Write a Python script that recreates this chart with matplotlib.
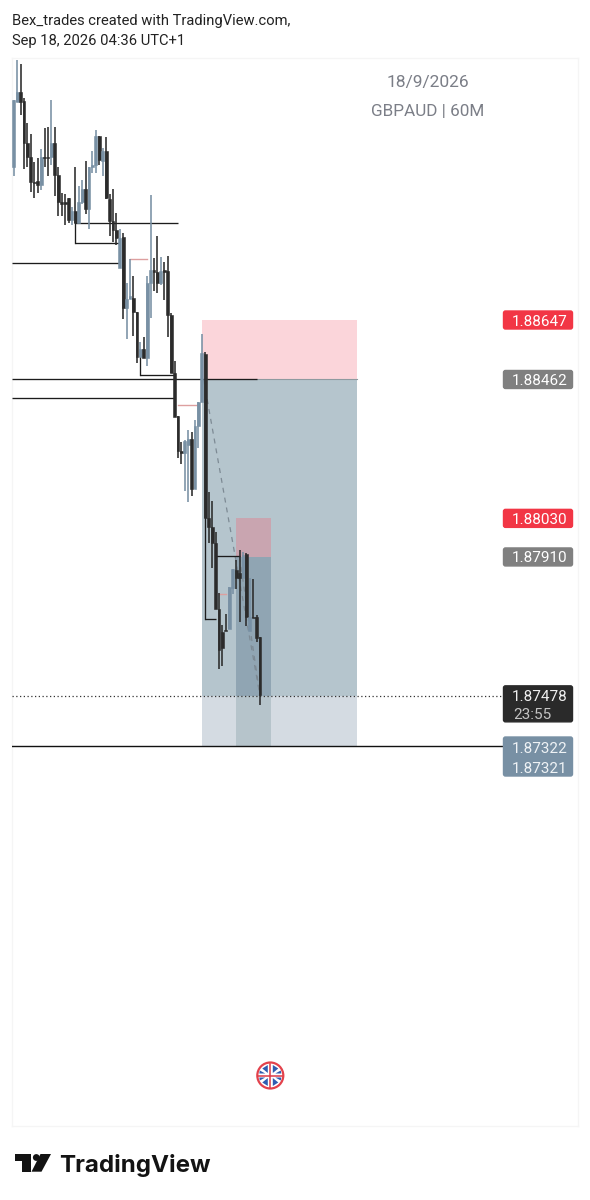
import matplotlib
matplotlib.use('Agg')
import numpy as np
import matplotlib.pyplot as plt
from matplotlib.patches import Rectangle, FancyBboxPatch, Circle, Polygon

plt.rcParams['font.family'] = ['Roboto', 'DejaVu Sans']

opens = [1.89123, 1.89325, 1.89356, 1.89328, 1.89197, 1.89154, 1.89076, 1.89079, 1.89067, 1.89154,
         1.89154, 1.89154, 1.89197, 1.89098, 1.89014, 1.89014, 1.89026, 1.88958, 1.88986, 1.88948,
         1.89014, 1.89054, 1.88992, 1.89123, 1.89129, 1.89219, 1.89141, 1.89173, 1.89023, 1.88955,
         1.88927, 1.88809, 1.88905, 1.88684, 1.88712, 1.88715, 1.88672, 1.88532, 1.88557, 1.88529,
         1.88762, 1.88802, 1.88796, 1.88762, 1.88802, 1.88799, 1.88663, 1.88482, 1.88348, 1.88240,
         1.88234, 1.88258, 1.88276, 1.88121, 1.88317, 1.88392, 1.88542, 1.88031, 1.88003, 1.87953,
         1.87748, 1.87677, 1.87683, 1.87686, 1.87813, 1.87869, 1.87860, 1.87844, 1.87919, 1.87680,
         1.87723, 1.87723, 1.87661]
highs = [1.89331, 1.89455, 1.89443, 1.89337, 1.89259, 1.89225, 1.89138, 1.89151, 1.89179, 1.89244,
         1.89247, 1.89331, 1.89247, 1.89123, 1.89042, 1.89039, 1.89026, 1.88998, 1.89123, 1.89064,
         1.89082, 1.89141, 1.89123, 1.89173, 1.89238, 1.89219, 1.89182, 1.89216, 1.89039, 1.89054,
         1.88979, 1.88930, 1.88917, 1.88762, 1.88837, 1.88784, 1.88672, 1.88579, 1.88594, 1.88784,
         1.89036, 1.88840, 1.88908, 1.88843, 1.88827, 1.88846, 1.88669, 1.88519, 1.88348, 1.88267,
         1.88274, 1.88305, 1.88298, 1.88336, 1.88392, 1.88603, 1.88548, 1.88112, 1.88084, 1.87987,
         1.87797, 1.87698, 1.87732, 1.87816, 1.87872, 1.87900, 1.87931, 1.87925, 1.87922, 1.87844,
         1.87841, 1.87729, 1.87661]
lows = [1.89095, 1.89325, 1.89284, 1.89116, 1.89123, 1.89045, 1.89026, 1.89042, 1.89051, 1.89123,
        1.89095, 1.89129, 1.89033, 1.88970, 1.88970, 1.88942, 1.88948, 1.88942, 1.88948, 1.88948,
        1.89008, 1.88976, 1.88930, 1.89104, 1.89104, 1.89129, 1.89095, 1.89023, 1.88908, 1.88889,
        1.88880, 1.88809, 1.88650, 1.88588, 1.88712, 1.88597, 1.88513, 1.88532, 1.88529, 1.88504,
        1.88653, 1.88737, 1.88731, 1.88756, 1.88709, 1.88594, 1.88482, 1.88345, 1.88218, 1.88199,
        1.88115, 1.88081, 1.88100, 1.88121, 1.88249, 1.88392, 1.88031, 1.87953, 1.87875, 1.87748,
        1.87561, 1.87570, 1.87680, 1.87686, 1.87794, 1.87810, 1.87707, 1.87844, 1.87695, 1.87680,
        1.87720, 1.87645, 1.87449]
closes = [1.89331, 1.89356, 1.89325, 1.89197, 1.89154, 1.89076, 1.89073, 1.89067, 1.89154, 1.89151,
          1.89151, 1.89197, 1.89098, 1.89014, 1.89008, 1.89008, 1.88958, 1.88986, 1.88948, 1.89014,
          1.89054, 1.88992, 1.89123, 1.89129, 1.89219, 1.89144, 1.89173, 1.89026, 1.88955, 1.88927,
          1.88902, 1.88902, 1.88684, 1.88712, 1.88722, 1.88672, 1.88532, 1.88557, 1.88529, 1.88762,
          1.88802, 1.88796, 1.88762, 1.88799, 1.88796, 1.88663, 1.88482, 1.88345, 1.88240, 1.88234,
          1.88270, 1.88276, 1.88121, 1.88317, 1.88392, 1.88545, 1.88031, 1.88003, 1.87953, 1.87748,
          1.87620, 1.87627, 1.87680, 1.87816, 1.87872, 1.87844, 1.87844, 1.87916, 1.87723, 1.87723,
          1.87720, 1.87658, 1.87480]

stop_1, entry_1 = 1.88647, 1.88462
stop_2, entry_2 = 1.88030, 1.87910
target, target_2, last = 1.87322, 1.87321, 1.87478
countdown = '23:55'

# x0, x1 in bars, price
h_lines = [(-0.5, 31.0, 1.88824), (18.0, 48.0, 1.88948), (18.0, 31.0, 1.88886),
           (37.0, 47.0, 1.88476), (-0.5, 71.0, 1.88465), (-0.5, 47.0, 1.88405),
           (56.0, 59.0, 1.87717), (59.0, 66.0, 1.87913)]
v_lines = [(18.0, 1.88948, 1.88886), (37.0, 1.88532, 1.88476), (56.0, 1.88031, 1.87717)]
pink_lines = [(34.0, 39.0, 1.88837), (48.0, 53.5, 1.88382), (60.0, 62.0, 1.87794)]

XMIN, XMAX = -0.526, 164.97
YMAX, YMIN = 1.894619, 1.861401
UP, DOWN = '#7890a4', '#2b2b2b'

fig = plt.figure(figsize=(5.9, 12), dpi=100)
ax = fig.add_axes([12 / 590, 1 - 1126 / 1200, 566 / 590, 1068 / 1200])
ax.set_xlim(XMIN, XMAX)
ax.set_ylim(YMIN, YMAX)
ax.set_xticks([])
ax.set_yticks([])
for s in ax.spines.values():
    s.set_color('#f5f5f5')
    s.set_linewidth(1)


def box(x0, x1, p0, p1, color, z):
    ax.add_patch(Rectangle((x0, p0), x1 - x0, p1 - p0, fc=color, ec='none', zorder=z))


# position boxes
box(55.0, 100.35, entry_1, stop_1, '#fbd5da', 1)
box(55.0, 100.35, last, entry_1, '#b5c5cd', 1)
box(55.0, 100.35, target, last, '#d4dbe2', 1)
box(65.0, 75.2, entry_2, stop_2, '#c9a5b0', 2)
box(65.0, 75.2, last, entry_2, '#90a5b3', 2)
box(65.0, 75.2, target, last, '#b6c4cb', 2)
ax.plot([71, 100.35], [entry_1, entry_1], color='#8f9a9f', lw=0.8, zorder=2)

# dashed lines to current price
ax.plot([55.5, 72], [entry_1, last], color='#7d8a94', lw=0.9, ls=(0, (4, 4)), zorder=3)
ax.plot([66, 72], [entry_2, last], color='#7d8a94', lw=0.9, ls=(0, (4, 4)), zorder=3)

# levels
for x0, x1, p in h_lines:
    ax.plot([x0, x1], [p, p], color='#1c1c1c', lw=0.95, zorder=4, solid_capstyle='butt')
for x, p0, p1 in v_lines:
    ax.plot([x, x], [p0, p1], color='#1c1c1c', lw=0.95, zorder=4)
for x0, x1, p in pink_lines:
    ax.plot([x0, x1], [p, p], color='#dd9f9f', lw=1.0, zorder=4)
ax.plot([XMIN, 143], [target, target], color='#111111', lw=1.0, zorder=4)
ax.plot([XMIN, 143], [last, last], color='#333333', lw=0.9, ls=(0, (1, 2)), zorder=4)

# candles
idx = np.arange(len(opens))
colors = [UP if c >= o else DOWN for o, c in zip(opens, closes)]
ax.vlines(idx, lows, highs, colors=colors, lw=1.15, zorder=5)
ax.bar(idx, np.abs(np.array(closes) - np.array(opens)), 0.82,
       bottom=np.minimum(opens, closes), color=colors, edgecolor=colors, lw=0.4, zorder=6)

# pixel overlay for tags, logo and flag
ov = fig.add_axes([0, 0, 1, 1], zorder=10)
ov.set_xlim(0, 590)
ov.set_ylim(1200, 0)
ov.axis('off')


def to_px(p):
    return 1126 - (p - YMIN) / (YMAX - YMIN) * 1068


def tag(top, bottom, color):
    ov.add_patch(FancyBboxPatch((503.5, top + 1), 69, bottom - top - 2, boxstyle='round,pad=0,rounding_size=2',
                                fc=color, ec=color, lw=1))


for p, color in [(stop_1, '#f23645'), (entry_1, '#808080'), (stop_2, '#f23645'), (entry_2, '#808080')]:
    y = to_px(p)
    tag(y - 10, y + 10, color)
    ov.text(540, y, f'{p:.5f}', color='white', fontsize=11, ha='center', va='center_baseline')

y = to_px(last)
tag(y - 11, y + 27, '#2a2a2a')
ov.text(540, y, f'{last:.5f}', color='#f0f0f0', fontsize=11, ha='center', va='center_baseline')
ov.text(513, y + 18, countdown, color='#c4c4c4', fontsize=11, ha='left', va='center_baseline')

y = to_px(target)
tag(y - 10, y + 31, '#7890a4')
ov.text(540, y + 1, f'{target:.5f}', color='#eef2f5', fontsize=11, ha='center', va='center_baseline')
ov.text(540, y + 21, f'{target_2:.5f}', color='#eef2f5', fontsize=11, ha='center', va='center_baseline')

# header
ov.text(12, 19, 'Bex_trades created with TradingView.com,', color='#222222', fontsize=10.6, va='center_baseline')
ov.text(12, 39, 'Sep 18, 2026 04:36 UTC+1', color='#222222', fontsize=10.6, va='center_baseline')
ov.text(428, 81, '18/9/2026', color='#7b7e87', fontsize=12.5, ha='center', va='center_baseline')
ov.text(428, 110, 'GBPAUD | 60M', color='#7b7e87', fontsize=12.3, ha='center', va='center_baseline')

# flag icon
cx, cy = 270.3, 1075.5
ov.add_patch(Circle((cx, cy), 13, fc='white', ec='#e3424c', lw=1.6))
for a in np.arange(4):
    sx = 1 if a % 2 else -1
    sy = 1 if a < 2 else -1
    for pts in ([(cx + sx * 2.5, cy + sy * 2.5), (cx + sx * 2.5, cy + sy * 10.5), (cx + sx * 8, cy + sy * 7)],
                [(cx + sx * 5, cy + sy * 2), (cx + sx * 11, cy + sy * 2), (cx + sx * 10.5, cy + sy * 5)]):
        ov.add_patch(Polygon(pts, fc='#2f5cb0', ec='none'))
ov.plot([cx - 12, cx + 12], [cy, cy], color='#dc3b46', lw=1.1)
ov.plot([cx, cx], [cy - 12, cy + 12], color='#dc3b46', lw=1.1)

# TradingView logo
ink = '#131313'
ov.add_patch(Polygon([(14.7, 1154), (30.7, 1154), (30.7, 1171.7), (22, 1171.7), (22, 1161), (14.7, 1161)], fc=ink, ec='none'))
ov.add_patch(Circle((36.3, 1157.5), 3.4, fc=ink, ec='none'))
ov.add_patch(Polygon([(40.5, 1154), (51, 1154), (41.5, 1171.7), (31.5, 1171.7)], fc=ink, ec='none'))
ov.text(59.5, 1172, 'TradingView', color=ink, fontsize=17.4, fontweight='bold',
        family=['Inter', 'DejaVu Sans'], va='baseline')

fig.savefig('out.png', dpi=100, facecolor='white')
